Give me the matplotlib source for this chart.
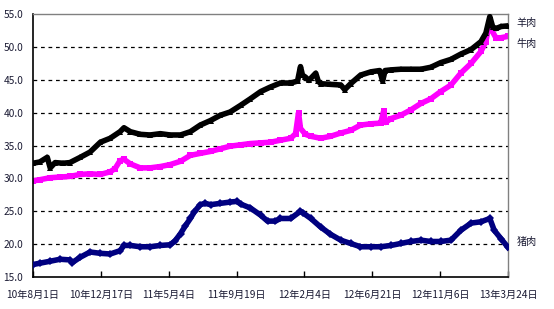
import matplotlib
matplotlib.use("Agg")
import matplotlib.pyplot as plt
import matplotlib.transforms as mtransforms
import pandas as pd

plt.rcParams['font.family'] = ['Noto Sans CJK SC', 'DejaVu Sans']

start_date = "2010-08-01"

# Mutton (羊肉): day offsets from start, price
mutton_days = [0, 14, 29, 35, 45, 61, 75, 96, 116, 137, 157, 177, 185, 198, 218, 238, 259, 279,
               300, 320, 340, 361, 381, 401, 422, 442, 463, 483, 503, 524, 538, 544, 548, 554,
               561, 575, 580, 585, 605, 626, 634, 646, 666, 687, 705, 711, 716, 728, 748, 768,
               789, 809, 829, 850, 870, 891, 911, 921, 929, 935, 942, 952, 966]
mutton_vals = [32.3, 32.5, 33.2, 31.6, 32.4, 32.3, 32.4, 33.2, 34.0, 35.5, 36.1, 37.1, 37.7, 37.1,
               36.7, 36.6, 36.8, 36.6, 36.6, 37.1, 38.1, 38.8, 39.6, 40.1, 41.1, 42.1, 43.2, 43.9,
               44.5, 44.5, 44.8, 47.0, 45.7, 45.4, 44.9, 46.0, 44.8, 44.4, 44.3, 44.2, 43.5, 44.4,
               45.7, 46.2, 46.4, 44.8, 46.4, 46.5, 46.6, 46.6, 46.6, 46.9, 47.6, 48.1, 48.9, 49.6,
               50.8, 52.1, 54.6, 53.0, 52.8, 53.1, 53.2]

# Beef (牛肉)
beef_days = [0, 14, 35, 55, 75, 96, 116, 137, 157, 167, 177, 185, 198, 218, 238, 259, 279, 300,
             320, 340, 361, 381, 401, 422, 442, 463, 483, 503, 524, 534, 540, 544, 554, 565, 585,
             605, 626, 646, 666, 687, 707, 713, 717, 728, 748, 768, 789, 809, 829, 850, 870, 891,
             911, 921, 927, 942, 952, 966]
beef_vals = [29.6, 29.8, 30.1, 30.2, 30.3, 30.6, 30.7, 30.6, 31.0, 31.5, 32.7, 32.9, 32.2, 31.6,
             31.6, 31.8, 32.1, 32.6, 33.5, 33.8, 34.1, 34.5, 34.9, 35.1, 35.3, 35.4, 35.5, 35.8,
             36.1, 36.8, 40.0, 37.6, 36.7, 36.4, 36.1, 36.4, 36.9, 37.3, 38.1, 38.3, 38.4, 40.2,
             38.5, 39.1, 39.6, 40.4, 41.4, 42.1, 43.2, 44.2, 46.0, 47.5, 49.3, 50.8, 53.3, 51.3,
             51.4, 51.6]

# Pork (猪肉)
pork_days = [0, 14, 35, 55, 75, 80, 96, 116, 137, 157, 177, 185, 198, 218, 238, 259, 279, 289,
             300, 310, 320, 328, 340, 350, 361, 381, 401, 415, 422, 442, 463, 477, 493, 503, 524,
             544, 550, 565, 585, 605, 626, 646, 666, 687, 707, 728, 748, 768, 789, 809, 829, 850,
             870, 891, 911, 929, 938, 952, 966]
pork_vals = [16.9, 17.1, 17.4, 17.7, 17.6, 17.2, 18.0, 18.8, 18.6, 18.5, 19.0, 19.8, 19.8, 19.6,
             19.6, 19.8, 19.9, 20.5, 21.6, 22.8, 23.9, 24.9, 26.0, 26.2, 26.0, 26.2, 26.4, 26.5,
             26.1, 25.5, 24.4, 23.5, 23.5, 23.9, 23.9, 25.0, 24.7, 23.9, 22.6, 21.5, 20.6, 20.1,
             19.6, 19.6, 19.6, 19.8, 20.1, 20.4, 20.6, 20.4, 20.4, 20.6, 22.1, 23.2, 23.4, 23.9,
             22.1, 20.8, 19.5]

tick_dates = ["2010-08-01", "2010-12-17", "2011-05-04", "2011-09-19",
              "2012-02-04", "2012-06-21", "2012-11-06", "2013-03-24"]
tick_labels = ["10年8月1日", "10年12月17日", "11年5月4日", "11年9月19日",
               "12年2月4日", "12年6月21日", "12年11月6日", "13年3月24日"]
y_ticks = [15, 20, 25, 30, 35, 40, 45, 50, 55]

series_names = ["羊肉", "牛肉", "猪肉"]
label_y = [53.6, 50.4, 20.4]

t0 = pd.Timestamp(start_date)
def to_dates(days):
    return [t0 + pd.Timedelta(days=d) for d in days]

fig = plt.figure(figsize=(5.54, 3.09), dpi=100)
ax = fig.add_axes([33/554, 1 - 277/309, (508 - 33)/554, (277 - 14)/309])

ax.plot(to_dates(mutton_days), mutton_vals, color='black', lw=4, marker='^', ms=5,
        mew=0, zorder=3)
ax.plot(to_dates(beef_days), beef_vals, color='#ff00ff', lw=4, marker='s', ms=5,
        mew=0, zorder=2)
ax.plot(to_dates(pork_days), pork_vals, color='#000080', lw=4, marker='D', ms=4.5,
        mew=0, zorder=3)

ax.set_xlim(pd.Timestamp(tick_dates[0]), pd.Timestamp(tick_dates[-1]))
ax.set_ylim(15, 55)
ax.set_xticks([pd.Timestamp(d) for d in tick_dates])
ax.set_xticklabels(tick_labels)
ax.set_yticks(y_ticks)
ax.set_yticklabels([f"{v:.1f}" for v in y_ticks])

for v in y_ticks[1:-1]:
    ax.axhline(v, color='black', lw=0.9, ls=(0, (3, 3)), zorder=1)

ax.tick_params(axis='x', direction='in', length=4, width=1, pad=9, labelsize=7.3,
               colors='black', labelcolor='#1a1a33')
ax.tick_params(axis='y', length=0, pad=7, labelsize=7.3, labelcolor='#1a1a33')

for s in ['top', 'right']:
    ax.spines[s].set_color('#808080')
    ax.spines[s].set_linewidth(1)
for s in ['left', 'bottom']:
    ax.spines[s].set_color('black')
    ax.spines[s].set_linewidth(1.2)

trans = mtransforms.blended_transform_factory(ax.transAxes, ax.transData)
for name, yv in zip(series_names, label_y):
    ax.text(1.018, yv, name, transform=trans, fontsize=7.3, color='#1a1a33',
            va='center', ha='left', clip_on=False)

fig.savefig("out.png", dpi=100)
